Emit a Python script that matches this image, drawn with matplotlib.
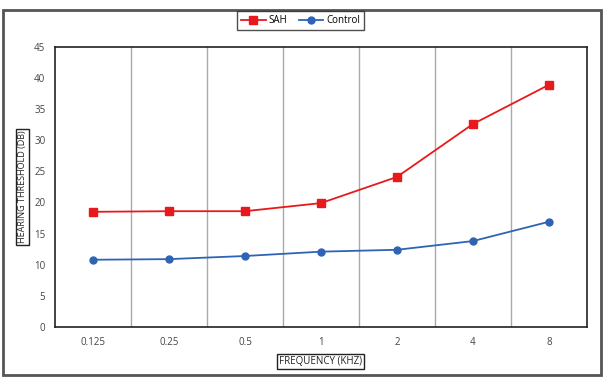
import matplotlib.pyplot as plt
from matplotlib.patches import Rectangle

# Datos
frecuencias = ['0.125', '0.25', '0.5', '1', '2', '4', '8']
sah = [18.5, 18.6, 18.6, 19.9, 24.1, 32.6, 38.9]
control = [10.8, 10.9, 11.4, 12.1, 12.4, 13.8, 16.9]

plt.rcParams['font.family'] = ['Open Sans', 'DejaVu Sans']

fig = plt.figure(figsize=(6.05, 3.78), dpi=100)
ax = fig.add_axes([0.091, 0.135, 0.879, 0.741])

x = list(range(len(frecuencias)))
ax.plot(x, sah, color='#e8191c', marker='s', markersize=6, linewidth=1.3, label='SAH')
ax.plot(x, control, color='#2f64b4', marker='o', markersize=5, linewidth=1.3, label='Control')

ax.set_xlim(-0.5, len(frecuencias) - 0.5)
ax.set_ylim(0, 45)
ax.set_yticks(range(0, 46, 5))
ax.set_xticks(x)
ax.set_xticklabels(frecuencias)
ax.tick_params(axis='both', length=0, labelsize=7, colors='#444444', pad=7)

# Líneas de separación entre categorías
for b in range(1, len(frecuencias)):
    ax.axvline(b - 0.5, color='#aaaaaa', linewidth=1, zorder=0)

for s in ax.spines.values():
    s.set_color('#222222')
    s.set_linewidth(1.2)

box = dict(boxstyle='square,pad=0.2', facecolor='white', edgecolor='#222222', linewidth=1)
ax.set_ylabel('HEARING THRESHOLD (DB)', fontsize=6.5, color='#222222', bbox=box, labelpad=5)
ax.set_xlabel('FREQUENCY (KHZ)', fontsize=7, color='#222222', bbox=box, labelpad=6)

leg = fig.legend(loc='center', bbox_to_anchor=(0.497, 0.946), ncol=2, fontsize=7,
                 frameon=True, fancybox=False, handlelength=2.5, columnspacing=1.2,
                 borderpad=0.4, handletextpad=0.3)
leg.get_frame().set_edgecolor('#222222')
leg.get_frame().set_linewidth(1)

# Marco exterior
fig.patches.append(Rectangle((0.005, 0.008), 0.988, 0.966, transform=fig.transFigure,
                             fill=False, edgecolor='#555555', linewidth=2))

fig.savefig('out.png', dpi=100)
